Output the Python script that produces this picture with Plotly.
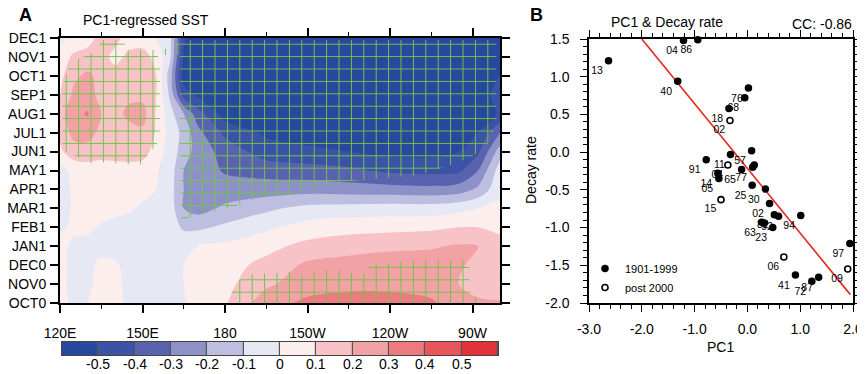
import plotly.graph_objects as go

# ---------------- Panel A : PC1-regressed SST (lon x month) ----------------
lon = [120, 125, 130, 135, 140, 145, 150, 155, 160, 165, 170, 180, 195, 210, 225, 240, 255, 265, 272, 280]
month_labels = ["OCT0", "NOV0", "DEC0", "JAN1", "FEB1", "MAR1", "APR1", "MAY1",
                "JUN1", "JUL1", "AUG1", "SEP1", "OCT1", "NOV1", "DEC1"]
lon_tickvals = [120, 150, 180, 210, 240, 270]
lon_ticktext = ["120E", "150E", "180", "150W", "120W", "90W"]
lon_minor = [135, 165, 195, 225, 255]

sst_oct0 = [0.03, -0.02, 0.00, 0.03, 0.03, -0.02, -0.03, -0.03, -0.02, -0.01, 0.04, 0.09, 0.26, 0.32, 0.33, 0.33, 0.31, 0.26, 0.22, 0.21]
sst_nov0 = [0.03, -0.03, -0.02, 0.03, 0.02, -0.02, -0.03, -0.03, -0.02, 0.00, 0.03, 0.07, 0.18, 0.26, 0.28, 0.28, 0.27, 0.20, 0.15, 0.15]
sst_dec0 = [0.03, -0.03, -0.02, 0.02, 0.01, -0.02, -0.04, -0.04, -0.03, 0.00, 0.03, 0.06, 0.13, 0.22, 0.24, 0.25, 0.25, 0.22, 0.16, 0.14]
sst_jan1 = [0.03, -0.02, -0.03, -0.03, -0.03, -0.03, -0.04, -0.04, -0.03, -0.01, 0.00, 0.02, 0.07, 0.13, 0.16, 0.18, 0.19, 0.21, 0.20, 0.13]
sst_feb1 = [-0.02, 0.02, 0.02, -0.01, -0.02, -0.03, -0.03, -0.04, -0.04, -0.12, -0.12, -0.08, -0.02, 0.04, 0.06, 0.07, 0.08, 0.10, 0.10, 0.08]
sst_mar1 = [-0.03, 0.01, 0.03, 0.03, 0.02, 0.01, -0.01, -0.03, -0.05, -0.20, -0.24, -0.18, -0.12, -0.07, -0.06, -0.05, -0.05, -0.03, 0.00, 0.02]
sst_apr1 = [-0.03, 0.01, 0.03, 0.03, 0.03, 0.02, 0.02, 0.00, -0.06, -0.20, -0.25, -0.26, -0.25, -0.24, -0.25, -0.26, -0.27, -0.25, -0.18, -0.02]
sst_may1 = [-0.03, 0.03, 0.05, 0.05, 0.05, 0.05, 0.04, 0.01, -0.05, -0.20, -0.25, -0.31, -0.34, -0.36, -0.38, -0.42, -0.43, -0.42, -0.30, -0.05]
sst_jun1 = [0.08, 0.16, 0.16, 0.14, 0.15, 0.16, 0.15, 0.05, -0.04, -0.15, -0.24, -0.34, -0.45, -0.47, -0.50, -0.53, -0.53, -0.50, -0.42, -0.15]
sst_jul1 = [0.13, 0.23, 0.24, 0.17, 0.15, 0.17, 0.18, 0.09, -0.04, -0.13, -0.27, -0.42, -0.52, -0.56, -0.59, -0.60, -0.60, -0.58, -0.50, -0.30]
sst_aug1 = [0.16, 0.27, 0.31, 0.20, 0.17, 0.22, 0.24, 0.09, -0.06, -0.20, -0.35, -0.55, -0.63, -0.65, -0.65, -0.65, -0.65, -0.64, -0.60, -0.48]
sst_sep1 = [0.10, 0.22, 0.24, 0.17, 0.15, 0.18, 0.17, 0.10, -0.12, -0.45, -0.52, -0.60, -0.65, -0.65, -0.65, -0.65, -0.65, -0.65, -0.60, -0.42]
sst_oct1 = [0.07, 0.18, 0.22, 0.17, 0.14, 0.15, 0.16, 0.10, -0.15, -0.55, -0.60, -0.64, -0.65, -0.65, -0.65, -0.65, -0.65, -0.65, -0.62, -0.50]
sst_nov1 = [0.04, 0.12, 0.14, 0.14, 0.07, 0.12, 0.14, 0.07, -0.08, -0.52, -0.60, -0.64, -0.65, -0.65, -0.65, -0.65, -0.65, -0.65, -0.62, -0.53]
sst_dec1 = [-0.03, 0.03, 0.06, 0.13, 0.13, 0.06, 0.05, 0.00, -0.07, -0.48, -0.58, -0.62, -0.65, -0.65, -0.65, -0.65, -0.65, -0.64, -0.60, -0.52]
sst_rows = [sst_oct0, sst_nov0, sst_dec0, sst_jan1, sst_feb1, sst_mar1, sst_apr1, sst_may1,
            sst_jun1, sst_jul1, sst_aug1, sst_sep1, sst_oct1, sst_nov1, sst_dec1]

# significant (hatched) regions, outlines as (lon, month index)
sig_west_lon = [120.7, 123.6, 134.5, 134.5, 143.6, 143.6, 154.5, 156.3, 156.3, 149.1, 134.5, 132.7, 121.1]
sig_west_mon = [11.25, 12.73, 13.37, 13.89, 13.89, 13.37, 13.37, 12.84, 8.61, 7.29, 7.45, 7.29, 8.08]
sig_east_lon = [157.4, 164.7, 278.7, 278.7, 274.4, 265.3, 250.8, 221.7, 207.2, 192.6, 181.7, 167.2, 164.3, 163.6, 163.6, 157.4]
sig_east_mon = [13.37, 13.89, 13.89, 9.40, 8.08, 7.45, 6.76, 6.39, 5.86, 5.55, 5.02, 4.54, 4.28, 7.03, 13.10, 13.10]
sig_south_lon = [182.5, 182.5, 187.2, 203.5, 207.2, 214.4, 223.5, 229.0, 233.3, 250.8, 268.9, 268.9, 273.3]
sig_south_mon = [0.0, 0.79, 1.48, 1.64, 1.43, 1.74, 1.74, 1.32, 2.01, 2.27, 2.27, 0.58, 0.0]

# colour bar bins
cb_edges = [-0.6, -0.5, -0.4, -0.3, -0.2, -0.1, 0.0, 0.1, 0.2, 0.3, 0.4, 0.5, 0.6]
cb_mid = [-0.55, -0.45, -0.35, -0.25, -0.15, -0.05, 0.05, 0.15, 0.25, 0.35, 0.45, 0.55]
cb_ticks = [-0.5, -0.4, -0.3, -0.2, -0.1, 0.0, 0.1, 0.2, 0.3, 0.4, 0.5]
cb_ticktext = ["-0.5", "-0.4", "-0.3", "-0.2", "-0.1", "0", "0.1", "0.2", "0.3", "0.4", "0.5"]
band_colors = ["#28489D", "#3B53A7", "#5962AF", "#8E91C8", "#BDBEE0", "#E6E8F3",
               "#FDEEEE", "#F7C3C6", "#F2A1A5", "#EC7A7F", "#E8565B", "#E2333A"]

# ---------------- Panel B : PC1 vs Decay rate ----------------
old_pc1 = [-2.63, -1.21, -0.94, -1.32, 0.02, -0.05, -0.35, -0.78, -0.32, 0.08, 0.13, 0.10, -0.11,
           -0.56, -0.54, 0.09, 0.34, 0.42, 0.51, 0.59, 1.01, 0.27, 0.32, 0.48, 0.91, 1.22, 1.35, 1.94]
old_decay = [1.21, 1.48, 1.49, 0.94, 0.85, 0.72, 0.58, -0.10, -0.03, 0.02, -0.17, -0.20, -0.23,
             -0.28, -0.35, -0.44, -0.49, -0.68, -0.83, -0.85, -0.84, -0.93, -0.94, -1.00, -1.63, -1.71, -1.66, -1.21]
old_year = ["13", "04", "86", "40", "76", "68", "18", "91", "11", "57", "", "77", "65",
            "14", "05", "25", "30", "02", "82", "92", "94", "63", "", "23", "41", "72", "87", "97"]
new_pc1 = [-0.33, -0.37, -0.50, 0.69, 1.90]
new_decay = [0.42, -0.17, -0.63, -1.39, -1.55]
new_year = ["02", "04", "15", "06", "09"]
fit_slope = -0.858
fit_intercept = -0.216
fit_x = [-2.0, 1.95]
pc1_ticks = [-3, -2, -1, 0, 1, 2]
pc1_ticktext = ["-3.0", "-2.0", "-1.0", "0.0", "1.0", "2.0"]
decay_ticks = [-2.0, -1.5, -1.0, -0.5, 0.0, 0.5, 1.0, 1.5]
decay_ticktext = ["-2.0", "-1.5", "-1.0", "-0.5", "0.0", "0.5", "1.0", "1.5"]

# The page body adds an 8 px margin, so the figure is sized to fit the window
# and all layout positions (given in window pixels) are converted accordingly.
OFF = 8
W, H = 865 - OFF, 374 - OFF
def px(x):
    return (x - OFF) / W
def py(y):
    return 1 - (y - OFF) / H

FONT = "Arial"

colorscale = []
n = len(band_colors)
for i, c in enumerate(band_colors):
    colorscale += [[i / n, c], [(i + 1) / n, c]]

fig = go.Figure()

fig.add_trace(go.Contour(
    x=lon, y=list(range(len(month_labels))), z=sst_rows,
    colorscale=colorscale, zmin=-0.6, zmax=0.6, autocontour=False,
    contours=dict(start=-0.5, end=0.5, size=0.1, coloring="fill", showlines=False),
    line=dict(width=0, smoothing=1.0), showscale=False, hoverinfo="skip",
    xaxis="x", yaxis="y", showlegend=False))

for plon, pmon in [(sig_west_lon, sig_west_mon), (sig_east_lon, sig_east_mon), (sig_south_lon, sig_south_mon)]:
    fig.add_trace(go.Scatter(
        x=plon + [plon[0]], y=pmon + [pmon[0]], mode="lines", fill="toself",
        fillcolor="rgba(0,0,0,0)", line=dict(width=0, color="rgba(0,0,0,0)"),
        fillpattern=dict(shape="+", size=12.4, solidity=0.15, fgcolor="#72C24A",
                         bgcolor="rgba(0,0,0,0)", fgopacity=1),
        hoverinfo="skip", showlegend=False, xaxis="x", yaxis="y"))

# colour bar as heatmap
fig.add_trace(go.Heatmap(
    x=cb_edges, z=[cb_mid], colorscale=colorscale, zmin=-0.6, zmax=0.6,
    showscale=False, xgap=1.2, hoverinfo="skip", xaxis="x3", yaxis="y3"))

# regression line
fig.add_trace(go.Scatter(
    x=fit_x, y=[fit_slope * v + fit_intercept for v in fit_x], mode="lines",
    line=dict(color="#E5281E", width=1.6), hoverinfo="skip", showlegend=False,
    xaxis="x2", yaxis="y2"))

fig.add_trace(go.Scatter(
    x=old_pc1, y=old_decay, mode="markers+text", text=old_year, textposition="bottom left",
    textfont=dict(size=10.5, color="black", family=FONT), name="1901-1999",
    marker=dict(symbol="circle", size=7.5, color="black"),
    xaxis="x2", yaxis="y2", cliponaxis=False))
fig.add_trace(go.Scatter(
    x=new_pc1, y=new_decay, mode="markers+text", text=new_year, textposition="bottom left",
    textfont=dict(size=10.5, color="black", family=FONT), name="post 2000",
    marker=dict(symbol="circle-open", size=6, color="black", line=dict(width=1.6, color="black")),
    xaxis="x2", yaxis="y2", cliponaxis=False))

axis_common = dict(showgrid=False, zeroline=False, showline=True, linecolor="black",
                   mirror="ticks", ticks="outside", tickcolor="black", automargin=False)

def label(text, x, y, size=14, angle=0, xanchor="center"):
    return dict(text=text, x=px(x), y=py(y), xref="paper", yref="paper",
                xanchor=xanchor, yanchor="middle", textangle=angle,
                showarrow=False, font=dict(size=size, family=FONT))

annotations = [
    label("<b>A</b>", 25, 15, size=18),
    label("<b>B</b>", 536, 15, size=18),
    label("PC1-regressed SST", 146, 20),
    label("PC1 & Decay rate", 667, 22),
    label("CC: -0.86", 854, 24, xanchor="right"),
    label("Decay rate", 531, 170, angle=-90),
    label("PC1", 720, 347),
]
# colour-bar labels placed at the bin boundaries of the colour-bar axis
for v, t in zip(cb_ticks, cb_ticktext):
    annotations.append(dict(text=t, x=v, xref="x3", y=py(364), yref="paper",
                            xanchor="center", yanchor="middle", showarrow=False,
                            font=dict(size=14, family=FONT)))

fig.update_layout(
    template="none",
    width=W, height=H, margin=dict(l=0, r=0, t=0, b=0, pad=0), autosize=False,
    paper_bgcolor="white", plot_bgcolor="white",
    font=dict(family=FONT, size=14, color="black"),
    xaxis=dict(domain=[px(60), px(500)], range=[120, 280], anchor="y",
               tickmode="array", tickvals=lon_tickvals, ticktext=lon_ticktext,
               ticklen=8, tickwidth=1.5, linewidth=2, ticklabelstandoff=8,
               minor=dict(tickmode="array", tickvals=lon_minor, ticklen=4, tickwidth=1.2,
                          ticks="outside", tickcolor="black"),
               tickfont=dict(size=14, family=FONT), **axis_common),
    yaxis=dict(domain=[py(303), py(38)], range=[0, 14], anchor="x",
               tickmode="array", tickvals=list(range(len(month_labels))), ticktext=month_labels,
               ticklen=8, tickwidth=1.5, linewidth=2, ticklabelstandoff=1,
               tickfont=dict(size=14, family=FONT), **axis_common),
    xaxis2=dict(domain=[px(589), px(853)], range=[-3, 2], anchor="y2",
                tickmode="array", tickvals=pc1_ticks, ticktext=pc1_ticktext,
                ticklen=7, tickwidth=1.3, linewidth=1.5, ticklabelstandoff=5,
                minor=dict(dtick=0.2, tick0=0, ticklen=4, tickwidth=1, ticks="outside", tickcolor="black"),
                tickfont=dict(size=14, family=FONT), **axis_common),
    yaxis2=dict(domain=[py(303), py(39)], range=[-2, 1.5], anchor="x2",
                tickmode="array", tickvals=decay_ticks, ticktext=decay_ticktext,
                ticklen=7, tickwidth=1.3, linewidth=1.5, ticklabelstandoff=8,
                minor=dict(dtick=0.1, tick0=0, ticklen=4, tickwidth=1, ticks="outside", tickcolor="black"),
                tickfont=dict(size=14, family=FONT), **axis_common),
    xaxis3=dict(domain=[px(62), px(498)], range=[-0.6, 0.6], anchor="y3",
                showticklabels=False, ticks="",
                showgrid=False, zeroline=False, showline=True, linecolor="#444", linewidth=1,
                mirror=True, automargin=False),
    yaxis3=dict(domain=[py(355), py(342)], range=[-0.5, 0.5], anchor="x3",
                showticklabels=False, ticks="", showgrid=False, zeroline=False,
                showline=True, linecolor="#444", linewidth=1, mirror=True, automargin=False),
    showlegend=True,
    legend=dict(x=px(585), y=py(254), xanchor="left", yanchor="top",
                bgcolor="rgba(0,0,0,0)", font=dict(size=11, family=FONT), tracegroupgap=0,
                itemwidth=30, borderwidth=0),
    shapes=[dict(type="rect", xref="x3 domain", yref="y3 domain", x0=0, x1=1, y0=0, y1=1,
                 fillcolor="#555555", line=dict(width=0), layer="below")],
    annotations=annotations,
)

fig.write_html("out.html")
